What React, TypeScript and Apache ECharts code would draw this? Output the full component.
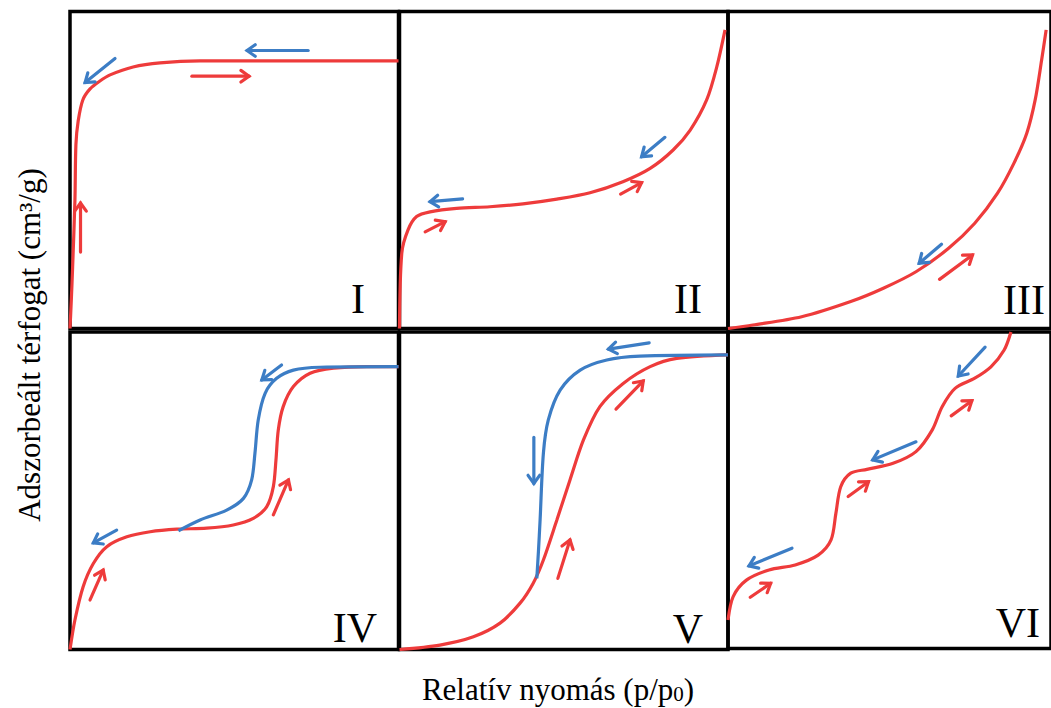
import React, { useEffect, useRef } from "react";
import * as echarts from "echarts";

const RED = "#EE3B3B";
const BLUE = "#3C7DC5";

const panelLabels = ["I", "II", "III", "IV", "V", "VI"];
const xTitle = "Relatív nyomás (p/p";
const xTitleSub = "0";
const yTitle = "Adszorbeált térfogat (cm³/g)";

// adsorption (red) curves, per panel: [relative pressure %, adsorbed volume %]
const adsI: number[][] = [[0, 0], [0.4, 9], [0.8, 19.4], [1.5, 40.5], [1.8, 58], [2.5, 65.5], [3.9, 72.1], [6.1, 75.6], [9, 78], [12.2, 80], [19.2, 82.5], [27.4, 83.8], [39.6, 84.4], [100, 84.4]];
const adsII: number[][] = [[0, 0], [0.7, 23.8], [2.6, 31.1], [5.2, 35.3], [9.3, 36.8], [17.4, 37.9], [27.5, 38.4], [37.6, 39.3], [47.9, 40.8], [58, 42.8], [68, 46.3], [76.3, 50.5], [83.3, 56.3], [88.5, 62.6], [93.5, 72.1], [96.6, 82.6], [99.1, 94.2]];
const adsIII: number[][] = [[0, 0], [7.7, 1.1], [22.8, 3.7], [38, 8.5], [48.1, 12.7], [58.2, 17.9], [68.3, 25.3], [76.4, 33.2], [83.4, 42.6], [88.5, 52.1], [92.5, 61.6], [95.1, 72.1], [97.1, 84.7], [98.5, 94.2]];
const adsIV: number[][] = [[0, 0], [1.5, 9.3], [4, 19.8], [7.1, 27.1], [11.2, 32.4], [17.3, 35.5], [24.4, 37.1], [32.5, 37.9], [41.6, 38.2], [49.7, 39.2], [55.8, 41.3], [59.9, 45], [61.9, 51.3], [62.7, 59.7], [63.4, 69.1], [64.9, 76.5], [68, 82.8], [73.1, 87], [80.2, 88.6], [90.3, 89.1], [100, 89.1]];
const adsV: number[][] = [[0, 0], [12.3, 1.4], [22.5, 4], [30.6, 8.3], [36.7, 14.6], [40.7, 20.9], [43.8, 28.2], [47.9, 40.8], [51.9, 53.4], [56, 66], [61, 76.5], [68.1, 83.8], [76.3, 89.1], [84.4, 91.7], [100, 92.8]];
const adsVI: number[][] = [[0, 9], [1.6, 16.4], [5.7, 21.6], [12.7, 24.8], [20.8, 26.4], [27.9, 29.5], [31.9, 34.3], [33.4, 42.7], [34.9, 51.1], [38, 55.4], [43, 56.6], [51.1, 58.5], [58.2, 62.2], [63.2, 69], [66.3, 76.4], [70.3, 82.2], [76.4, 85.4], [81.4, 89], [85.5, 94.3], [87.6, 100]];

// desorption (blue) branches
const desIV: number[][] = [[33, 37.4], [39.6, 40.8], [47.7, 43.9], [52.8, 47.6], [55.3, 53.4], [56.3, 61.8], [57.3, 72.3], [59.4, 80.7], [62.9, 85.4], [68, 88], [76.1, 88.9], [100, 89.1]];
const desV: number[][] = [[41.8, 22.4], [42.3, 31], [42.8, 40.8], [43.8, 61.8], [45.3, 72.3], [48.9, 81.7], [55, 88], [63.1, 91.2], [73.2, 92.4], [100, 92.8]];

// direction arrows: [x1, y1, x2, y2] (tail -> head)
const redArrowsI: number[][] = [[37.1, 79.6, 54.5, 79.6], [3.2, 24.1, 3.2, 39.6]];
const blueArrowsI: number[][] = [[13.7, 85.2, 4.6, 77.6], [72.5, 87.7, 53.9, 87.7]];
const redArrowsII: number[][] = [[7.8, 30.5, 13.9, 33.7], [67.3, 42.4, 73.7, 46.0]];
const blueArrowsII: number[][] = [[19.2, 40.9, 9.3, 40.0], [80.8, 60.3, 73.7, 54.2]];
const redArrowsIII: number[][] = [[65.5, 15.5, 75.7, 23.2]];
const blueArrowsIII: number[][] = [[66.1, 26.6, 59.2, 20.6]];
const redArrowsIV: number[][] = [[6.1, 15.6, 10.1, 25.0], [61.9, 42.4, 66.5, 53.4]];
const blueArrowsIV: number[][] = [[14.2, 37.6, 7.1, 33.6], [64.4, 89.6, 58.4, 84.9]];
const redArrowsV: number[][] = [[48.2, 22.4, 51.9, 34.5], [65.9, 75.7, 74.2, 84.6]];
const blueArrowsV: number[][] = [[40.9, 66.8, 40.9, 52.3], [76.0, 96.6, 63.6, 94.6]];
const redArrowsVI: number[][] = [[6.9, 16.2, 13.2, 20.6], [37.2, 48.0, 43.5, 52.7], [69.1, 73.5, 75.5, 78.3]];
const blueArrowsVI: number[][] = [[19.8, 31.7, 6.5, 26.1], [58.2, 65.3, 44.8, 59.6], [79.6, 95.2, 71.3, 86.1]];

const adsorption = [adsI, adsII, adsIII, adsIV, adsV, adsVI];
const desorption: (number[][] | null)[] = [null, null, null, desIV, desV, null];
const redArrows = [redArrowsI, redArrowsII, redArrowsIII, redArrowsIV, redArrowsV, redArrowsVI];
const blueArrows = [blueArrowsI, blueArrowsII, blueArrowsIII, blueArrowsIV, blueArrowsV, blueArrowsVI];

const GRIDS = [
  { left: 70, top: 11.5, width: 328.5, height: 317 },
  { left: 399.5, top: 11.5, width: 328.5, height: 317 },
  { left: 728, top: 11.5, width: 330, height: 317 },
  { left: 70, top: 332, width: 328.5, height: 317.5 },
  { left: 399.5, top: 332, width: 328.5, height: 317.5 },
  { left: 728, top: 332, width: 330, height: 316.5 },
];
const LABEL_POS = [
  [365, 299], [702, 299], [1045, 300], [377, 628], [703, 629], [1040, 623],
];

function arrowRenderer(color: string) {
  return (params: any, api: any) => {
    const a = api.coord([api.value(0), api.value(1)]);
    const b = api.coord([api.value(2), api.value(3)]);
    const ang = Math.atan2(b[1] - a[1], b[0] - a[0]);
    const L = 10;
    const s = 0.62;
    const h1 = [b[0] - L * Math.cos(ang - s), b[1] - L * Math.sin(ang - s)];
    const h2 = [b[0] - L * Math.cos(ang + s), b[1] - L * Math.sin(ang + s)];
    return {
      type: "group",
      children: [
        { type: "line", shape: { x1: a[0], y1: a[1], x2: b[0], y2: b[1] }, style: { stroke: color, lineWidth: 3.2, lineCap: "round" } },
        { type: "polyline", shape: { points: [h1, b, h2] }, style: { stroke: color, lineWidth: 3.2, fill: null, lineJoin: "miter", lineCap: "round" } },
      ],
    };
  };
}

const SERIF = "'Liberation Serif', 'Times New Roman', Times, serif";
const f = (size: number) => size + "px " + SERIF;

export default function App() {
  const ref = useRef<HTMLDivElement>(null);
  useEffect(() => {
    if (!ref.current) return;
    const chart = echarts.init(ref.current, null, { renderer: "svg" });
    const grid = GRIDS.map((g) => ({ ...g, show: true, borderColor: "#000", borderWidth: 3.5, backgroundColor: "transparent", containLabel: false }));
    const xAxis = GRIDS.map((_, i) => ({ type: "value", gridIndex: i, min: 0, max: 100, show: false }));
    const yAxis = GRIDS.map((_, i) => ({ type: "value", gridIndex: i, min: 0, max: 100, show: false }));
    const series: any[] = [];
    adsorption.forEach((d, i) => {
      series.push({ type: "line", xAxisIndex: i, yAxisIndex: i, data: d, smooth: 0.3, showSymbol: false, symbol: "none", lineStyle: { color: RED, width: 3.2 }, z: 3, silent: true });
      const des = desorption[i];
      if (des) series.push({ type: "line", xAxisIndex: i, yAxisIndex: i, data: des, smooth: 0.3, showSymbol: false, symbol: "none", lineStyle: { color: BLUE, width: 3.2 }, z: 4, silent: true });
      series.push({ type: "custom", xAxisIndex: i, yAxisIndex: i, data: redArrows[i], renderItem: arrowRenderer(RED), encode: { x: [0, 2], y: [1, 3] }, z: 5, silent: true });
      series.push({ type: "custom", xAxisIndex: i, yAxisIndex: i, data: blueArrows[i], renderItem: arrowRenderer(BLUE), encode: { x: [0, 2], y: [1, 3] }, z: 5, silent: true });
    });
    const graphic: any[] = panelLabels.map((t, i) => ({
      type: "text", x: LABEL_POS[i][0], y: LABEL_POS[i][1], z: 10,
      style: { text: t, font: f(42), fill: "#000", align: "right", verticalAlign: "middle" },
    }));
    graphic.push({
      type: "text", x: 558, y: 689, z: 10,
      style: { text: "{a|" + xTitle + "}{s|" + xTitleSub + "}{a|)}", font: f(31), fill: "#000", align: "center", verticalAlign: "middle",
        rich: { a: { font: f(31), fontSize: 31, fontFamily: SERIF, fill: "#000" }, s: { font: f(21), fontSize: 21, fontFamily: SERIF, fill: "#000", verticalAlign: "bottom" } } },
    });
    graphic.push({
      type: "text", x: 29, y: 345, rotation: Math.PI / 2, z: 10,
      style: { text: yTitle, font: f(31), fill: "#000", align: "center", verticalAlign: "middle" },
    });
    chart.setOption({
      animation: false,
      backgroundColor: "#fff",
      grid, xAxis, yAxis, series, graphic,
    });
    return () => chart.dispose();
  }, []);
  return <div ref={ref} style={{ position: "absolute", left: 0, top: 0, width: 1051, height: 708 }} />;
}
